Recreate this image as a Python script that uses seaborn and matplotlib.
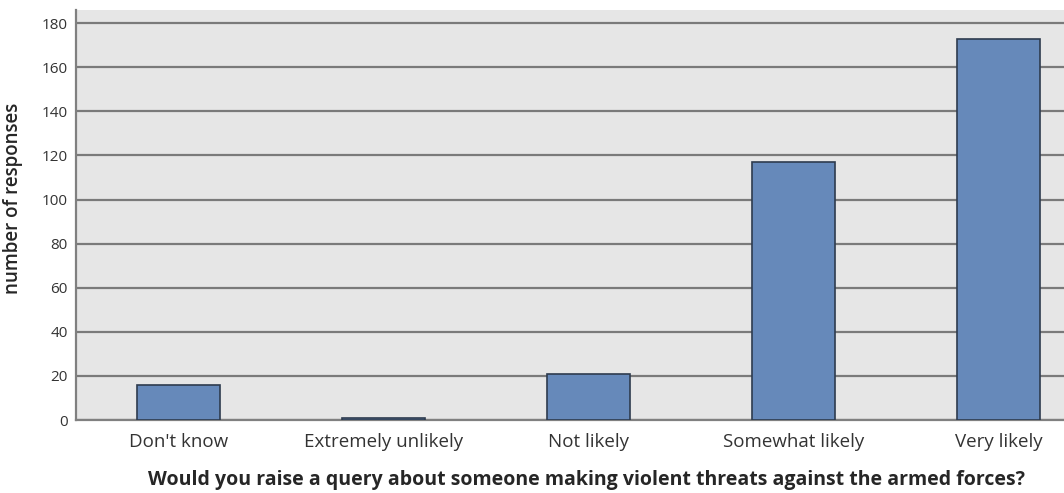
import matplotlib
matplotlib.use("Agg")
from matplotlib import pyplot as plt
from matplotlib.ticker import FixedLocator
import pandas as pd
import seaborn as sns

# Survey answers and counts
answers = ["Don't know", "Extremely unlikely", "Not likely", "Somewhat likely", "Very likely"]
counts = [16, 1, 21, 117, 173]
y_ticks = [0, 20, 40, 60, 80, 100, 120, 140, 160, 180]

df = pd.DataFrame({"answer": answers, "responses": counts})

sns.set_style("white")
plt.rcParams["font.family"] = ["Open Sans", "DejaVu Sans"]

fig = plt.figure(figsize=(10.64, 4.93), dpi=100)
ax = fig.add_axes([0.0714, 0.148, 0.9286, 0.832])
ax.set_facecolor("#e6e6e6")

sns.barplot(data=df, x="answer", y="responses", color="#6689ba", width=0.405,
            edgecolor="#2e3b4e", linewidth=1.2, saturation=1, ax=ax, zorder=3)

ax.set_ylim(0, 186)
ax.set_xlim(-0.5, 4.32)
ax.set_yticks(y_ticks)
ax.yaxis.grid(True, color="#7a7a7a", linewidth=1.6, zorder=0)
ax.set_axisbelow(True)

# tick marks sit between the categories, labels at the centres
ax.xaxis.set_minor_locator(FixedLocator([0.5, 1.5, 2.5, 3.5]))
ax.tick_params(axis="x", which="major", length=0, labelsize=13.5, colors="#333333", pad=9)
ax.tick_params(axis="x", which="minor", length=4, color="#777777", direction="out")
ax.tick_params(axis="y", length=4, color="#777777", direction="out", labelsize=11,
               colors="#333333", pad=2)

for side in ["top", "right"]:
    ax.spines[side].set_visible(False)
for side in ["left", "bottom"]:
    ax.spines[side].set_color("#808080")
    ax.spines[side].set_linewidth(1.6)

ax.set_ylabel("number of responses", fontsize=13.5, fontweight="semibold")
ax.yaxis.set_label_coords(-0.054, 0.54)
ax.set_xlabel("Would you raise a query about someone making violent threats against the armed forces?",
              fontsize=14, fontweight="bold")
ax.xaxis.set_label_coords(0.517, -0.122)

fig.savefig("out.png", dpi=100)
